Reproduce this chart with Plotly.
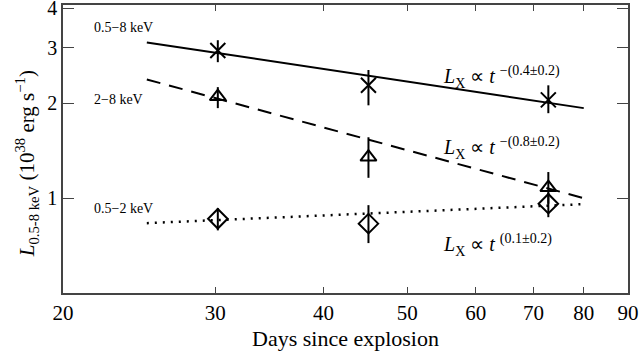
import plotly.graph_objects as go
import math

# Data
days = [30.2, 45.1, 72.8]
l_full = [2.94, 2.28, 2.05]
l_full_plus = [0.23, 0.27, 0.23]
l_full_minus = [0.24, 0.31, 0.19]
l_hard = [2.10, 1.35, 1.08]
l_hard_plus = [0.15, 0.21, 0.13]
l_hard_minus = [0.17, 0.19, 0.12]
l_soft = [0.86, 0.83, 0.96]
l_soft_plus = [0.07, 0.12, 0.08]
l_soft_minus = [0.07, 0.11, 0.09]

fit_days = [25, 80]
fit_full = [3.12, 1.93]
fit_hard = [2.38, 1.00]
fit_soft = [0.833, 0.957]

x_ticks = [20, 30, 40, 50, 60, 70, 80, 90]
y_ticks = [1, 2, 3, 4]

band_labels = ["0.5\u22128 keV", "2\u22128 keV", "0.5\u22122 keV"]
band_label_y = [3.48, 2.06, 0.93]
fit_labels = ["\u2212(0.4\u00b10.2)", "\u2212(0.8\u00b10.2)", "(0.1\u00b10.2)"]
fit_label_y = [2.42, 1.44, 0.712]

x_title = "Days since explosion"
y_title = "<i>L</i><sub>0.5-8 keV</sub> (10<sup>38</sup> erg s<sup>\u22121</sup>)"

FONT = "Liberation Serif, Times New Roman, serif"

fig = go.Figure()

fig.add_trace(go.Scatter(x=fit_days, y=fit_full, mode="lines",
                         line=dict(color="black", width=2), showlegend=False))
fig.add_trace(go.Scatter(x=fit_days, y=fit_hard, mode="lines",
                         line=dict(color="black", width=2, dash="14px,9px"), showlegend=False))
fig.add_trace(go.Scatter(x=fit_days, y=fit_soft, mode="lines",
                         line=dict(color="black", width=2.5, dash="2px,6px"), showlegend=False))

def pts(y, p, m, sym, size):
    return go.Scatter(
        x=days, y=y, mode="markers", showlegend=False,
        marker=dict(symbol=sym, size=size, color="black",
                    line=dict(color="black", width=2)),
        error_y=dict(type="data", symmetric=False, array=p, arrayminus=m,
                     color="black", thickness=2, width=0),
    )

fig.add_trace(pts(l_full, l_full_plus, l_full_minus, "x-thin-open", 15))
fig.add_trace(pts(l_hard, l_hard_plus, l_hard_minus, "triangle-up-open", 14))
fig.add_trace(pts(l_soft, l_soft_plus, l_soft_minus, "diamond-open", 15))

for lab, yv in zip(band_labels, band_label_y):
    fig.add_annotation(x=math.log10(21.6), y=math.log10(yv), text=lab,
                       showarrow=False, xanchor="left", yanchor="middle",
                       font=dict(family=FONT, size=14, color="black"))

for lab, yv in zip(fit_labels, fit_label_y):
    fig.add_annotation(x=math.log10(54.7), y=math.log10(yv),
                       text="<i>L</i><sub>X</sub> \u221d <i>t</i> <sup>" + lab + "</sup>",
                       showarrow=False, xanchor="left", yanchor="middle",
                       font=dict(family=FONT, size=20, color="black"))

fig.add_annotation(xref="paper", yref="paper", x=-0.064, y=0.45,
                   text=y_title, textangle=-90, showarrow=False,
                   xanchor="center", yanchor="middle",
                   font=dict(family=FONT, size=21, color="black"))
fig.add_annotation(xref="paper", yref="paper", x=0.5, y=-0.158,
                   text=x_title, showarrow=False,
                   xanchor="center", yanchor="middle",
                   font=dict(family=FONT, size=22, color="black"))

axis_common = dict(
    showgrid=False, zeroline=False, showline=True, linecolor="#444", linewidth=1.5,
    mirror="ticks", ticks="inside", tickcolor="#444", tickwidth=1.2,
    automargin=False, ticklabeloverflow="allow",
)

fig.update_xaxes(type="log", range=[math.log10(20), math.log10(90)],
                 tickvals=x_ticks, ticktext=[str(v) for v in x_ticks], ticklen=6,
                 tickfont=dict(family=FONT, size=21, color="black"),
                 **axis_common)
fig.update_yaxes(type="log", range=[math.log10(0.5), math.log10(4.1)],
                 tickvals=y_ticks, ticktext=[str(v) for v in y_ticks], ticklen=11,
                 tickfont=dict(family=FONT, size=20, color="black"),
                 **axis_common)

fig.update_layout(
    width=643, height=351,
    margin=dict(l=63, r=15, t=5, b=58, autoexpand=False),
    paper_bgcolor="white", plot_bgcolor="white",
    font=dict(family=FONT, color="black"),
)

fig.write_html("out.html", config={"displayModeBar": False},
               post_script="document.body.style.margin='0';")
